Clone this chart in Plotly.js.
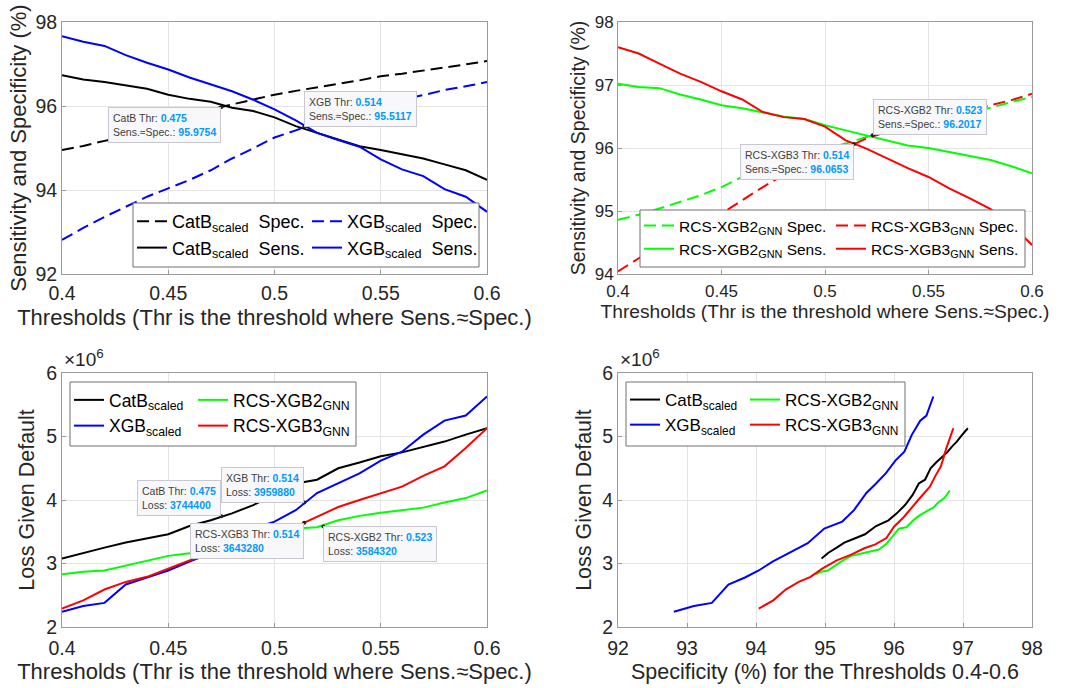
<!DOCTYPE html>
<html><head><meta charset="utf-8">
<script src="https://cdn.plot.ly/plotly-3.0.1.min.js"></script>
<style>html,body{margin:0;padding:0;background:#fff}#chart{width:1067px;height:688px}</style>
</head><body><div id="chart"></div>
<script>
// ---------- data ----------
const thresholds = [0.40,0.41,0.42,0.43,0.44,0.45,0.46,0.47,0.48,0.49,0.50,0.51,0.52,0.53,0.54,0.55,0.56,0.57,0.58,0.59,0.60];

const catbSpec = [94.95,95.05,95.17,95.28,95.42,95.58,95.74,95.92,96.04,96.16,96.27,96.36,96.45,96.53,96.61,96.71,96.77,96.84,96.91,96.99,97.07];
const catbSens = [96.73,96.63,96.57,96.49,96.41,96.27,96.17,96.10,95.96,95.88,95.73,95.52,95.36,95.19,95.04,94.95,94.85,94.75,94.61,94.47,94.24];
const xgbSpec  = [92.81,93.10,93.36,93.60,93.84,94.04,94.24,94.47,94.75,94.99,95.25,95.42,95.60,95.74,95.88,96.02,96.15,96.26,96.38,96.47,96.57];
const xgbSens  = [97.66,97.53,97.43,97.21,97.03,96.87,96.68,96.51,96.35,96.15,95.92,95.66,95.36,95.19,95.03,94.73,94.49,94.33,94.02,93.84,93.48];

const xgb2Spec = [94.86,94.94,95.04,95.15,95.25,95.38,95.54,95.68,95.78,95.89,95.99,96.07,96.18,96.28,96.36,96.43,96.50,96.57,96.64,96.73,96.81];
const xgb2Sens = [97.02,96.97,96.95,96.85,96.77,96.68,96.63,96.56,96.50,96.46,96.36,96.28,96.20,96.13,96.04,96.00,95.94,95.87,95.81,95.71,95.60];
const xgb3Spec = [94.04,94.25,94.43,94.62,94.79,94.96,95.17,95.38,95.57,95.73,95.89,96.00,96.15,96.26,96.35,96.44,96.52,96.60,96.68,96.76,96.86];
const xgb3Sens = [97.60,97.50,97.34,97.18,97.05,96.90,96.77,96.57,96.49,96.46,96.34,96.12,95.99,95.83,95.68,95.54,95.36,95.20,95.03,94.78,94.46];

const catbLoss = [3080000,3170000,3250000,3330000,3390000,3460000,3590000,3680000,3790000,3920000,4080000,4260000,4320000,4500000,4590000,4690000,4750000,4840000,4920000,5030000,5130000];
const xgbLoss  = [2240000,2330000,2380000,2670000,2780000,2890000,3030000,3160000,3320000,3550000,3660000,3840000,4110000,4260000,4420000,4620000,4760000,5030000,5250000,5330000,5630000];
const xgb2Loss = [2830000,2870000,2890000,2970000,3040000,3120000,3160000,3190000,3220000,3310000,3450000,3550000,3570000,3680000,3750000,3800000,3840000,3880000,3960000,4030000,4150000];
const xgb3Loss = [2290000,2420000,2590000,2710000,2790000,2920000,3050000,3140000,3240000,3300000,3400000,3580000,3740000,3890000,4000000,4110000,4210000,4380000,4530000,4820000,5130000];

// data tips
const tipTL_names = ['CatB','XGB'];
const tipTL_thr   = [0.475, 0.514];
const tipTL_val   = [95.9754, 95.5117];
const tipTR_names = ['RCS-XGB2','RCS-XGB3'];
const tipTR_thr   = [0.523, 0.514];
const tipTR_val   = [96.2017, 96.0653];
const tipBL_names = ['CatB','XGB','RCS-XGB3','RCS-XGB2'];
const tipBL_thr   = [0.475, 0.514, 0.514, 0.523];
const tipBL_loss  = [3744400, 3959880, 3643280, 3584320];

const thrTicks  = [0.4,0.45,0.5,0.55,0.6];
const thrLabels = ['0.4','0.45','0.5','0.55','0.6'];
const lossTicks = [2000000,3000000,4000000,5000000,6000000];
const lossLabels= ['2','3','4','5','6'];
const specTicks = [92,93,94,95,96,97,98];
const sensTicksTL = [92,94,96,98];
const sensTicksTR = [94,95,96,97,98];

// ---------- styling ----------
const W = 1067, H = 688;
const F = 'Liberation Sans, Arial, Helvetica, sans-serif';
const BLACK = '#000000', BLUE = '#0000ff', GREEN = '#00ff00', RED = '#ff0000';
const DASH = '12px,6px';
const LW = 2;
const px = v => v / W, py = v => 1 - v / H;

function line(x, y, xa, ya, color, dash, name, legend) {
  return {x, y, xaxis: xa, yaxis: ya, type: 'scatter', mode: 'lines', name, legend,
    line: {color, width: LW, dash: dash || 'solid'}, hoverinfo: 'skip'};
}
function tips(x, y, xa, ya) {
  return {x, y, xaxis: xa, yaxis: ya, type: 'scatter', mode: 'markers', showlegend: false,
    marker: {color: '#222', size: 4}, hoverinfo: 'skip'};
}

const data = [
  line(thresholds, catbSpec, 'x', 'y', BLACK, DASH, 'CatB<sub>scaled</sub>  Spec.', 'legend'),
  line(thresholds, catbSens, 'x', 'y', BLACK, null, 'CatB<sub>scaled</sub>  Sens.', 'legend'),
  line(thresholds, xgbSpec, 'x', 'y', BLUE, DASH, 'XGB<sub>scaled</sub>  Spec.', 'legend2'),
  line(thresholds, xgbSens, 'x', 'y', BLUE, null, 'XGB<sub>scaled</sub>  Sens.', 'legend2'),
  tips(tipTL_thr, tipTL_val, 'x', 'y'),

  line(thresholds, xgb2Spec, 'x2', 'y2', GREEN, DASH, 'RCS-XGB2<sub>GNN</sub> Spec.', 'legend3'),
  line(thresholds, xgb2Sens, 'x2', 'y2', GREEN, null, 'RCS-XGB2<sub>GNN</sub> Sens.', 'legend3'),
  line(thresholds, xgb3Spec, 'x2', 'y2', RED, DASH, 'RCS-XGB3<sub>GNN</sub> Spec.', 'legend4'),
  line(thresholds, xgb3Sens, 'x2', 'y2', RED, null, 'RCS-XGB3<sub>GNN</sub> Sens.', 'legend4'),
  tips(tipTR_thr, tipTR_val, 'x2', 'y2'),

  line(thresholds, catbLoss, 'x3', 'y3', BLACK, null, 'CatB<sub>scaled</sub>', 'legend5'),
  line(thresholds, xgbLoss, 'x3', 'y3', BLUE, null, 'XGB<sub>scaled</sub>', 'legend5'),
  line(thresholds, xgb2Loss, 'x3', 'y3', GREEN, null, 'RCS-XGB2<sub>GNN</sub>', 'legend6'),
  line(thresholds, xgb3Loss, 'x3', 'y3', RED, null, 'RCS-XGB3<sub>GNN</sub>', 'legend6'),
  tips(tipBL_thr, tipBL_loss, 'x3', 'y3'),

  line(catbSpec, catbLoss, 'x4', 'y4', BLACK, null, 'CatB<sub>scaled</sub>', 'legend7'),
  line(xgbSpec, xgbLoss, 'x4', 'y4', BLUE, null, 'XGB<sub>scaled</sub>', 'legend7'),
  line(xgb2Spec, xgb2Loss, 'x4', 'y4', GREEN, null, 'RCS-XGB2<sub>GNN</sub>', 'legend8'),
  line(xgb3Spec, xgb3Loss, 'x4', 'y4', RED, null, 'RCS-XGB3<sub>GNN</sub>', 'legend8')
];

const AXC = '#9a9a9a';
function axis(domain, range, tickvals, ticktext, tsize, title, titleSize, anchor, standoff, tls) {
  return {domain, range, tickvals, ticktext, anchor, showline: true, mirror: true, linecolor: AXC, linewidth: 1,
    ticks: 'inside', ticklen: 4, tickcolor: AXC, showgrid: true, gridcolor: '#e4e4e4', zeroline: false,
    ticklabelstandoff: tls || 0,
    tickfont: {family: F, size: tsize, color: '#262626'}, fixedrange: true,
    title: {text: title, font: {family: F, size: titleSize, color: '#262626'}, standoff}};
}
const xL = [px(62), px(487)], xR = [px(618), px(1032)];
const yT = [py(274), py(22)], yB = [py(627), py(373)];
const THR_T = 'Thresholds (Thr is the threshold where Sens.≈Spec.)';

function leg(lx, ly, size) {
  return {x: px(lx), y: py(ly), xanchor: 'left', yanchor: 'top', bgcolor: 'rgba(0,0,0,0)', borderwidth: 0,
    font: {family: F, size, color: '#000'}, tracegroupgap: 0, itemwidth: 30, orientation: 'v'};
}
function box(x0, y0, x1, y1) {
  return {type: 'rect', xref: 'paper', yref: 'paper', x0: px(x0), x1: px(x1), y0: py(y1), y1: py(y0),
    fillcolor: '#ffffff', line: {color: '#707070', width: 1}, layer: 'above'};
}
const V = '<span style="color:#0099ff"><b>';
const VE = '</b></span>';
function tipAnn(xa, ya, x, y, text, xanchor, yanchor) {
  return {xref: xa, yref: ya, x, y, xanchor, yanchor, showarrow: false, align: 'left', text,
    font: {family: F, size: 10.5, color: '#404040'}, bgcolor: '#f8f8fb', bordercolor: '#c8c8d2',
    borderwidth: 1, borderpad: 4};
}
const annotations = [
  tipAnn('x', 'y', tipTL_thr[0], tipTL_val[0], tipTL_names[0] + ' Thr: ' + V + tipTL_thr[0] + VE + '<br>Sens.≈Spec.: ' + V + tipTL_val[0] + VE, 'right', 'top'),
  tipAnn('x', 'y', tipTL_thr[1], tipTL_val[1], tipTL_names[1] + ' Thr: ' + V + tipTL_thr[1] + VE + '<br>Sens.≈Spec.: ' + V + tipTL_val[1] + VE, 'left', 'bottom'),
  tipAnn('x2', 'y2', tipTR_thr[0], tipTR_val[0], tipTR_names[0] + ' Thr: ' + V + tipTR_thr[0] + VE + '<br>Sens.≈Spec.: ' + V + tipTR_val[0] + VE, 'left', 'bottom'),
  tipAnn('x2', 'y2', tipTR_thr[1], tipTR_val[1], tipTR_names[1] + ' Thr: ' + V + tipTR_thr[1] + VE + '<br>Sens.≈Spec.: ' + V + tipTR_val[1] + VE, 'right', 'top'),
  tipAnn('x3', 'y3', tipBL_thr[0], tipBL_loss[0], tipBL_names[0] + ' Thr: ' + V + tipBL_thr[0] + VE + '<br>Loss: ' + V + tipBL_loss[0] + VE, 'right', 'bottom'),
  tipAnn('x3', 'y3', tipBL_thr[1], tipBL_loss[1], tipBL_names[1] + ' Thr: ' + V + tipBL_thr[1] + VE + '<br>Loss: ' + V + tipBL_loss[1] + VE, 'right', 'bottom'),
  tipAnn('x3', 'y3', tipBL_thr[2], tipBL_loss[2], tipBL_names[2] + ' Thr: ' + V + tipBL_thr[2] + VE + '<br>Loss: ' + V + tipBL_loss[2] + VE, 'right', 'top'),
  tipAnn('x3', 'y3', tipBL_thr[3], tipBL_loss[3], tipBL_names[3] + ' Thr: ' + V + tipBL_thr[3] + VE + '<br>Loss: ' + V + tipBL_loss[3] + VE, 'left', 'top'),
  {xref: 'paper', yref: 'paper', x: px(62), y: py(372), xanchor: 'left', yanchor: 'bottom', showarrow: false,
    text: '×10<sup>6</sup>', font: {family: F, size: 19, color: '#262626'}},
  {xref: 'paper', yref: 'paper', x: px(618), y: py(372), xanchor: 'left', yanchor: 'bottom', showarrow: false,
    text: '×10<sup>6</sup>', font: {family: F, size: 19, color: '#262626'}}
];

const layout = {
  width: W, height: H, margin: {l: 0, r: 0, t: 0, b: 0}, paper_bgcolor: '#fff', plot_bgcolor: '#fff',
  showlegend: true, hovermode: false,
  xaxis:  axis(xL, [0.4, 0.6], thrTicks, thrLabels, 19.5, THR_T, 22, 'y', 6, 2),
  yaxis:  axis(yT, [92, 98], sensTicksTL, sensTicksTL.map(String), 19.5, 'Sensitivity and Specificity (%)', 22, 'x', 2),
  xaxis2: axis(xR, [0.4, 0.6], thrTicks, thrLabels, 17, THR_T, 19.2, 'y2', 4, 2),
  yaxis2: axis(yT, [94, 98], sensTicksTR, sensTicksTR.map(String), 17, 'Sensitivity and Specificity (%)', 19.5, 'x2', 3),
  xaxis3: axis(xL, [0.4, 0.6], thrTicks, thrLabels, 19.5, THR_T, 22, 'y3', 5, 4),
  yaxis3: axis(yB, [2000000, 6000000], lossTicks, lossLabels, 19.5, 'Loss Given Default', 21.5, 'x3', 5),
  xaxis4: axis(xR, [92, 98], specTicks, specTicks.map(String), 19.5, 'Specificity (%) for the Thresholds 0.4-0.6', 21.5, 'y4', 5, 4),
  yaxis4: axis(yB, [2000000, 6000000], lossTicks, lossLabels, 19.5, 'Loss Given Default', 21.5, 'x4', 4),
  legend:  leg(132, 203, 18),
  legend2: leg(307, 203, 18),
  legend3: leg(639, 209, 15.5),
  legend4: leg(831, 209, 15.5),
  legend5: leg(69, 382, 17.5),
  legend6: leg(193, 382, 17.5),
  legend7: leg(625, 382, 17),
  legend8: leg(745, 382, 17),
  shapes: [box(133, 203, 479, 267), box(640, 210, 1025, 267), box(70, 382, 356, 446), box(626, 382, 905, 446)],
  annotations
};

Plotly.newPlot('chart', data, layout, {displayModeBar: false, staticPlot: true});
</script></body></html>
